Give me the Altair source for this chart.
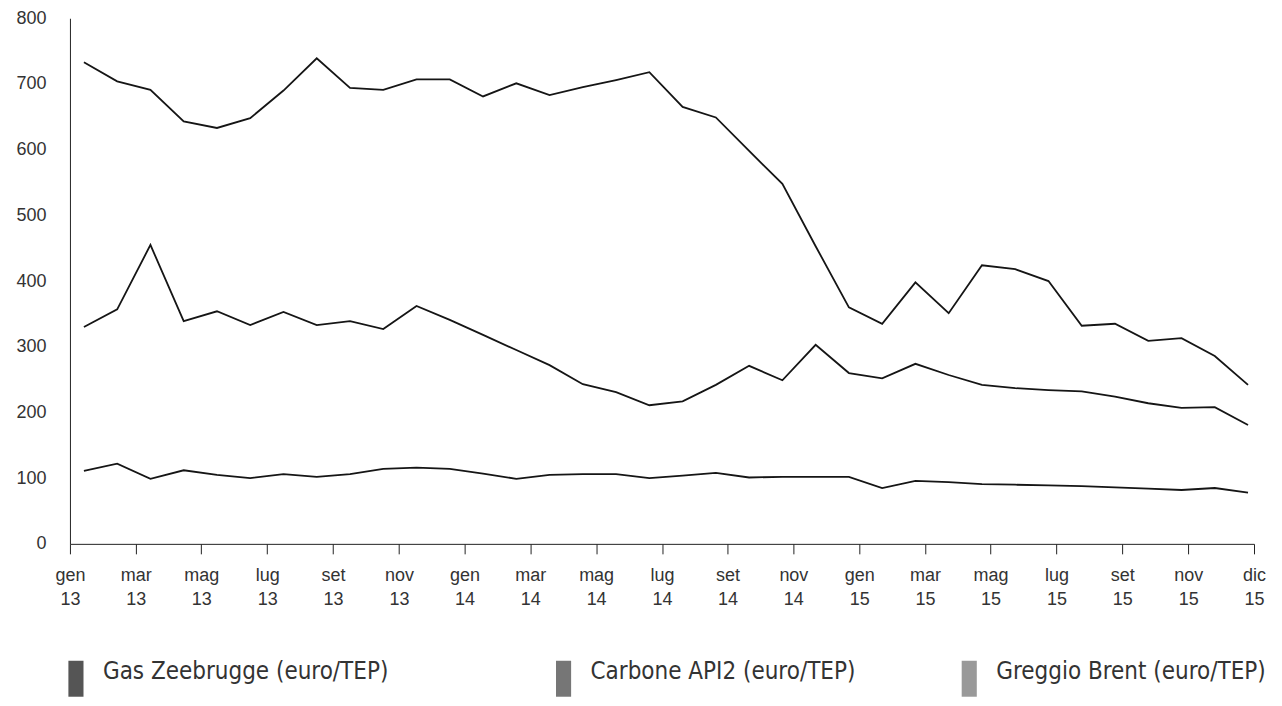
import json
import altair as alt
import pandas as pd

# ---- data (monthly, gen 2013 .. dic 2015) ----
month_index = list(range(36))

gas_zeebrugge = [330, 357, 455, 339, 354, 333, 353, 333, 339, 327, 362, 341,
                 318, 295, 272, 243, 231, 211, 217, 242, 271, 249, 303, 260,
                 252, 274, 257, 242, 237, 234, 232, 224, 214, 207, 208, 181]

carbone_api2 = [111, 122, 99, 112, 105, 100, 106, 102, 106, 114, 116, 114,
                107, 99, 105, 106, 106, 100, 104, 108, 101, 102, 102, 102,
                85, 96, 94, 91, 90, 89, 88, 86, 84, 82, 85, 78]

greggio_brent = [733, 704, 691, 643, 633, 648, 690, 739, 694, 691, 707, 707,
                 681, 701, 683, 695, 706, 718, 665, 649, 598, 548, 453, 360,
                 335, 398, 351, 424, 418, 400, 332, 335, 309, 313, 286, 242]

series_names = ["Gas Zeebrugge (euro/TEP)", "Carbone API2 (euro/TEP)",
                "Greggio Brent (euro/TEP)"]

tick_labels = ["gen 13", "mar 13", "mag 13", "lug 13", "set 13", "nov 13",
               "gen 14", "mar 14", "mag 14", "lug 14", "set 14", "nov 14",
               "gen 15", "mar 15", "mag 15", "lug 15", "set 15", "nov 15",
               "dic 15"]
tick_pos = [-0.42, 1.56, 3.53, 5.51, 7.49, 9.47, 11.44, 13.42, 15.40, 17.38,
            19.35, 21.33, 23.31, 25.29, 27.26, 29.24, 31.22, 33.20, 35.18]

y_ticks = [0, 100, 200, 300, 400, 500, 600, 700, 800]

# ---- styling ----
legend_greys = ["#555555", "#767676", "#999999"]
legend_x = [-12, 476, 882]
LINE_COLOR = "#151515"
TEXT_COLOR = "#333333"
AXIS_FONT = "Liberation Sans"
LEGEND_FONT = "DejaVu Sans Condensed, Liberation Sans Narrow, DejaVu Sans, sans-serif"

rows = []
for name, vals in zip(series_names, [gas_zeebrugge, carbone_api2, greggio_brent]):
    for i, v in zip(month_index, vals):
        rows.append({"series": name, "month": i, "value": v})
df = pd.DataFrame(rows)

tick_keys = [round(p * 100) for p in tick_pos]
label_expr = ("split(" + json.dumps(tick_labels) + "[indexof(" + json.dumps(tick_keys)
              + ", round(datum.value * 100))], ' ')")

x_enc = alt.X(
    "month:Q",
    scale=alt.Scale(domain=[tick_pos[0], tick_pos[-1]], nice=False, zero=False),
    axis=alt.Axis(values=tick_pos, labelExpr=label_expr, grid=False, title=None,
                  tickSize=10, tickColor="#222222", tickWidth=1,
                  domainColor="#222222", domainWidth=1,
                  labelFont=AXIS_FONT, labelFontSize=18, labelColor=TEXT_COLOR,
                  labelPadding=13, labelLineHeight=24, labelBaseline="top",
                  labelAlign="center", labelOverlap=False, labelFlush=False),
)
y_enc = alt.Y(
    "value:Q",
    scale=alt.Scale(domain=[0, 800], nice=False),
    axis=alt.Axis(values=y_ticks, grid=False, title=None, tickSize=0,
                  domainColor="#222222", domainWidth=1,
                  labelFont=AXIS_FONT, labelFontSize=18, labelColor=TEXT_COLOR,
                  labelPadding=24, labelFlush=False),
)

lines = alt.Chart(df).mark_line(color=LINE_COLOR, strokeWidth=1.8).encode(
    x=x_enc, y=y_enc, detail="series:N", order="month:Q"
)

bar_symbol = "M-0.42,-1H0.42V1H-0.42Z"
legend_layers = []
for name, grey, lx in zip(series_names, legend_greys, legend_x):
    legend_layers.append(
        alt.Chart(df).mark_square(opacity=1).encode(
            fill=alt.Fill(
                "series:N",
                scale=alt.Scale(domain=[name], range=[grey]),
                legend=alt.Legend(orient="none", legendX=lx, legendY=643,
                                  title=None, padding=0, symbolType=bar_symbol,
                                  symbolSize=1296, symbolStrokeWidth=0,
                                  symbolOpacity=1, labelOffset=9,
                                  labelBaseline="alphabetic", labelFont=LEGEND_FONT,
                                  labelFontSize=24, labelColor=TEXT_COLOR,
                                  labelLimit=500),
            )
        ).transform_filter("false")
    )

chart = (
    alt.layer(lines, *legend_layers)
    .resolve_scale(fill="independent")
    .resolve_legend(fill="independent")
    .properties(width=1185, height=526, autosize="none",
                padding={"left": 62, "top": 10, "right": 20, "bottom": 154},
                background="white")
    .configure_view(stroke=None)
)

chart.save("out.html", embed_options={"renderer": "svg", "actions": False})
